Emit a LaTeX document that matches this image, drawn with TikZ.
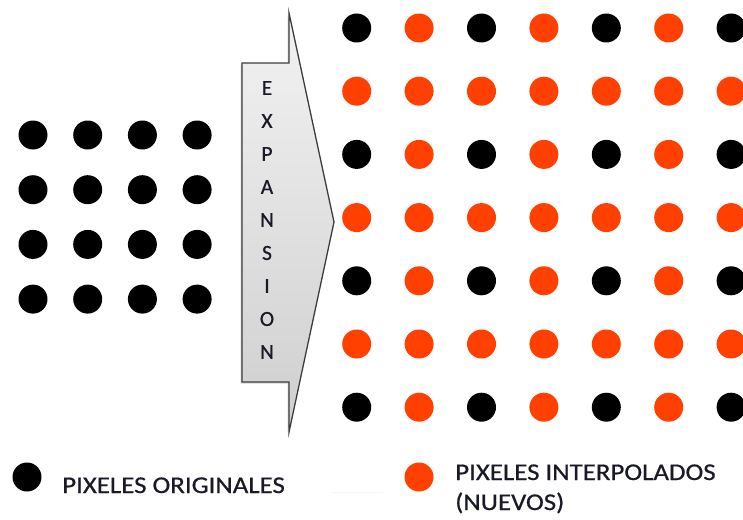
\documentclass[tikz,border=0pt]{standalone}
\usepackage{fontspec}
\setmainfont{Carlito}
\newfontfamily\heavyfont[FakeBold=0.6]{Carlito}
\usetikzlibrary{shadows}
\definecolor{pixorange}{RGB}{255,64,0}
\definecolor{txtdark}{RGB}{25,25,40}
\definecolor{arrowedge}{RGB}{60,60,60}
\tikzset{
  dot/.style={circle, minimum size=29pt, inner sep=0pt, outer sep=0pt},
  blackdot/.style={dot, fill=black},
  orangedot/.style={dot, fill=pixorange},
  letter/.style={font=\heavyfont\fontsize{21.5}{22}\selectfont, text=txtdark, inner sep=0pt, anchor=center},
  legendtext/.style={font=\heavyfont\fontsize{24}{30}\selectfont, text=txtdark, inner sep=0pt, xscale=1.12, anchor=base west}
}
\begin{document}
\begin{tikzpicture}[x=1pt, y=-1pt]
\useasboundingbox (0,0) rectangle (743,519);
% left grid of original pixels
\foreach \i in {0,...,3}{
  \foreach \j in {0,...,3}{
    \node[blackdot] (l\i\j) at ({33+54.7*\j},{135+54.7*\i}) {};
  }
}
% expansion arrow
\path[draw=arrowedge, line width=1.3pt, line join=miter,
      top color=gray!10, bottom color=gray!38,
      drop shadow={shadow xshift=-1.5pt, shadow yshift=-1.5pt, opacity=0.35}]
  (242,63) -- (289,63) -- (289,13) -- (334,222) -- (289,432) -- (289,382) -- (242,382) -- cycle;
\foreach \c [count=\k from 0] in {E,X,P,A,N,S,I,O,N}{
  \node[letter] (t\k) at (267,{88+33*\k}) {\c};
}
% right grid of expanded pixels
\foreach \i in {0,...,6}{
  \foreach \j in {0,...,6}{
    \pgfmathtruncatemacro{\re}{mod(\i,2)}
    \pgfmathtruncatemacro{\ce}{mod(\j,2)}
    \ifnum\re=0 \ifnum\ce=0
      \node[blackdot] (r\i\j) at ({356.7+62.4*\j},{28+63.2*\i}) {};
    \else
      \node[orangedot] (r\i\j) at ({356.7+62.4*\j},{28+63.2*\i}) {};
    \fi\else
      \node[orangedot] (r\i\j) at ({356.7+62.4*\j},{28+63.2*\i}) {};
    \fi
  }
}
% legend
\node[blackdot] (legb) at (27,477) {};
\node[legendtext] (legbt) at (62,493) {PIXELES ORIGINALES};
\draw[gray!8, line width=1pt] (332,492) -- (383,492);
\node[orangedot] (lego) at (419,477) {};
\node[legendtext] (legot) at (455,480) {PIXELES INTERPOLADOS};
\node[legendtext] (legot2) at (455,510) {(NUEVOS)};
\end{tikzpicture}
\end{document}
